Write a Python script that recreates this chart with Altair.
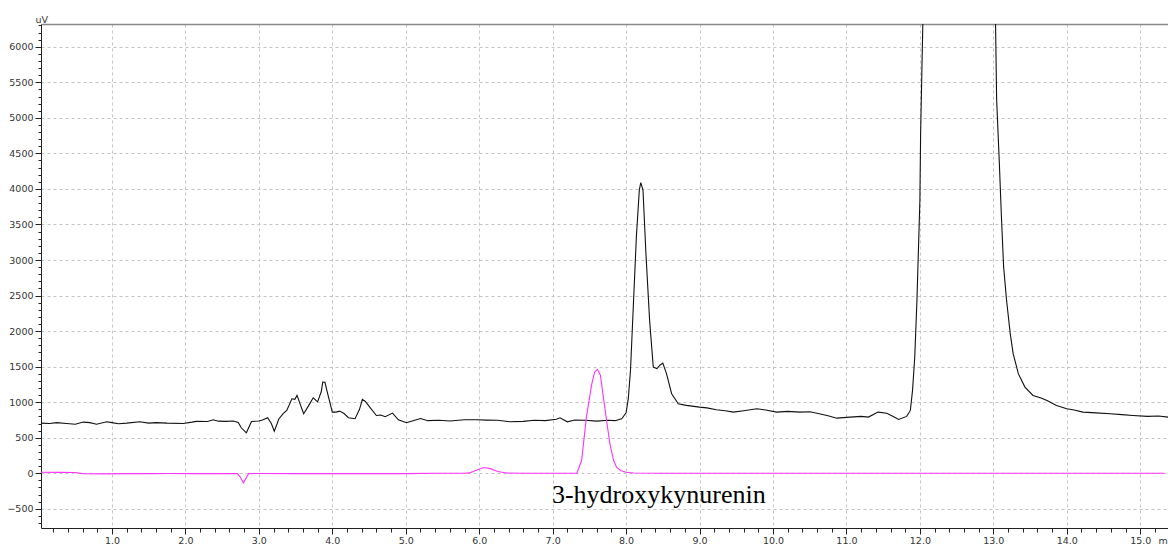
import altair as alt
import pandas as pd

# ---- data ----
black_time = [0.03, 0.15, 0.25, 0.38, 0.5, 0.61, 0.7, 0.79, 0.93, 1.0, 1.09, 1.2, 1.38, 1.5, 1.6, 1.75,
              1.97, 2.09, 2.15, 2.3, 2.38, 2.45, 2.55, 2.65, 2.72, 2.76, 2.83, 2.87, 2.9, 3.0, 3.05, 3.12,
              3.17, 3.21, 3.25, 3.27, 3.33, 3.38, 3.45, 3.49, 3.52, 3.56, 3.61, 3.68, 3.74, 3.8, 3.85, 3.87,
              3.9, 3.93, 4.0, 4.05, 4.1, 4.16, 4.22, 4.31, 4.37, 4.41, 4.45, 4.51, 4.6, 4.66, 4.72, 4.82,
              4.9, 5.01, 5.1, 5.2, 5.3, 5.45, 5.6, 5.8, 5.97, 6.1, 6.25, 6.42, 6.6, 6.75, 6.9, 7.05, 7.1,
              7.2, 7.3, 7.45, 7.6, 7.75, 7.85, 7.94, 8.0, 8.03, 8.06, 8.1, 8.14, 8.18, 8.2, 8.23, 8.27,
              8.32, 8.37, 8.42, 8.46, 8.5, 8.55, 8.62, 8.71, 8.82, 9.0, 9.1, 9.23, 9.35, 9.46, 9.6, 9.78,
              9.9, 10.05, 10.2, 10.37, 10.5, 10.6, 10.75, 10.87, 11.05, 11.2, 11.3, 11.43, 11.55, 11.65,
              11.71, 11.82, 11.87, 11.9, 11.93, 11.96, 11.98, 12.0, 12.01, 12.04, 12.06, 12.5, 13.0,
              13.03, 13.045, 13.08, 13.11, 13.14, 13.18, 13.23, 13.27, 13.34, 13.43, 13.54, 13.65, 13.73,
              13.86, 14.0, 14.1, 14.22, 14.4, 14.59, 14.75, 14.9, 15.1, 15.25, 15.38]
black_uv = [705, 700, 712, 700, 690, 720, 712, 690, 725, 712, 696, 705, 725, 705, 712, 705,
            700, 719, 730, 728, 752, 733, 730, 735, 715, 640, 569, 660, 729, 735, 750, 781,
            700, 592, 700, 760, 840, 884, 1048, 1040, 1095, 980, 837, 955, 1062, 1004, 1150, 1283,
            1280, 1150, 860, 860, 874, 840, 781, 767, 900, 1039, 1010, 931, 813, 820, 795, 846,
            752, 710, 740, 770, 740, 745, 735, 752, 752, 748, 745, 724, 730, 745, 740, 760, 780,
            724, 750, 745, 733, 745, 740, 766, 850, 1050, 1450, 2387, 3327, 3985, 4088, 3985, 3092,
            2152, 1494, 1471, 1520, 1550, 1401, 1119, 978, 955, 930, 920, 893, 880, 860, 880, 907,
            890, 860, 870, 860, 865, 845, 810, 775, 790, 800, 790, 860, 845, 790,
            757, 800, 884, 1166, 1635, 2434, 3139, 3844, 4784, 6324, 9000, 30000, 9000,
            6324, 5253, 4407, 3608, 2903, 2434, 1965, 1683, 1401, 1212, 1095, 1060, 1025,
            954, 907, 890, 860, 850, 837, 825, 813, 800, 805, 790]

pink_time = [0.03, 0.3, 0.5, 0.6, 0.9, 1.2, 1.5, 1.8, 2.1, 2.4, 2.6, 2.71, 2.75, 2.79, 2.83, 2.86,
             3.0, 3.5, 4.0, 4.5, 5.0, 5.4, 5.8, 5.87, 5.95, 6.06, 6.15, 6.25, 6.37, 6.6, 7.0, 7.33,
             7.395, 7.46, 7.53, 7.57, 7.61, 7.65, 7.69, 7.74, 7.78, 7.83, 7.87, 7.93, 8.0, 8.1, 8.5,
             10.0, 12.0, 14.0, 15.33]
pink_uv = [15, 12, 10, -5, -8, -5, -5, -3, -5, -5, -3, -5, -60, -135, -60, -5,
           -3, -5, -5, -5, -5, 0, 0, 5, 40, 80, 65, 25, 3, 0, 0, 0,
           183, 793, 1240, 1420, 1462, 1380, 1074, 700, 414, 179, 85, 35, 14, 3, 0,
           0, 0, 0, 0]

label_time = [6.99]
label_uv = [-423]
label_text = ["3-hydroxykynurenin"]

x_ticks = [round(i * 0.2, 1) for i in range(1, 77)]       # minor every 0.2, major every 1.0
y_ticks = list(range(-700, 6301, 100))                    # minor every 100, major every 500

black_df = pd.DataFrame({"t": black_time, "uv": black_uv})
pink_df = pd.DataFrame({"t": pink_time, "uv": pink_uv})
label_df = pd.DataFrame({"t": label_time, "uv": label_uv, "txt": label_text})

xs = alt.Scale(domain=[0.034, 15.378], nice=False, zero=False)
ys = alt.Scale(domain=[-770, 6320], nice=False, zero=False)

x_major_test = "abs(datum.value - round(datum.value)) < 0.01"
y_major_test = "abs(datum.value % 500) < 0.5"

x_axis = alt.Axis(
    values=x_ticks,
    labelExpr=f"{x_major_test} ? format(datum.value, '.1f') : ''",
    labelOverlap=False,
    labelFont="DejaVu Sans", labelFontSize=9.5, labelColor="#333333", labelPadding=1,
    tickSize={"condition": {"test": x_major_test, "value": 6}, "value": 4},
    tickColor="#222222", tickWidth=1,
    domainColor="#222222", domainWidth=1,
    grid=True, gridDash=[3, 3], gridColor="#c4c4c4", gridWidth=1,
    gridOpacity={"condition": {"test": x_major_test, "value": 1}, "value": 0},
    title="min", titleFont="DejaVu Sans", titleFontSize=9.5, titleFontWeight="normal",
    titleColor="#333333", titleX=1117, titleY=15, titleAlign="left", titleBaseline="alphabetic",
)

y_axis = alt.Axis(
    values=y_ticks,
    labelExpr=f"{y_major_test} ? format(datum.value, 'd') : ''",
    labelOverlap=False,
    labelFont="DejaVu Sans", labelFontSize=9.5, labelColor="#333333", labelPadding=2,
    tickSize={"condition": {"test": y_major_test, "value": 6}, "value": 3},
    tickColor="#222222", tickWidth=1,
    domainColor="#222222", domainWidth=1,
    grid=True, gridDash=[3, 3], gridColor="#c4c4c4", gridWidth=1,
    gridOpacity={"condition": {"test": y_major_test, "value": 1}, "value": 0},
    title="uV", titleFont="DejaVu Sans", titleFontSize=9.5, titleFontWeight="normal",
    titleColor="#333333", titleAngle=0, titleX=-6, titleY=-2, titleAlign="left",
    titleBaseline="alphabetic",
)

top_axis = alt.Axis(orient="top", labels=False, ticks=False, grid=False, title=None,
                    domainColor="#8a8a8a", domainWidth=1.5)

black = alt.Chart(black_df).mark_line(color="#111111", strokeWidth=1.1, clip=True).encode(
    x=alt.X("t:Q", scale=xs, axis=x_axis),
    y=alt.Y("uv:Q", scale=ys, axis=y_axis),
)

pink = alt.Chart(pink_df).mark_line(color="#ff33ff", strokeWidth=1.1, clip=True).encode(
    x=alt.X("t:Q", scale=xs, axis=top_axis),
    y=alt.Y("uv:Q", scale=ys, axis=y_axis),
)

label = alt.Chart(label_df).mark_text(
    font="Liberation Serif", fontSize=26, color="#000000", align="left", baseline="alphabetic"
).encode(
    x=alt.X("t:Q", scale=xs, axis=None),
    y=alt.Y("uv:Q", scale=ys, axis=y_axis),
    text="txt:N",
)

chart = alt.layer(black, pink, label).resolve_axis(x="independent").properties(
    width=1127, height=504,
    autosize=alt.AutoSizeParams(type="none"),
    padding={"left": 41, "top": 24, "right": 0, "bottom": 16},
    background="white",
).configure_view(stroke=None)

chart.save("out.html", embed_options={"renderer": "svg", "actions": False})
